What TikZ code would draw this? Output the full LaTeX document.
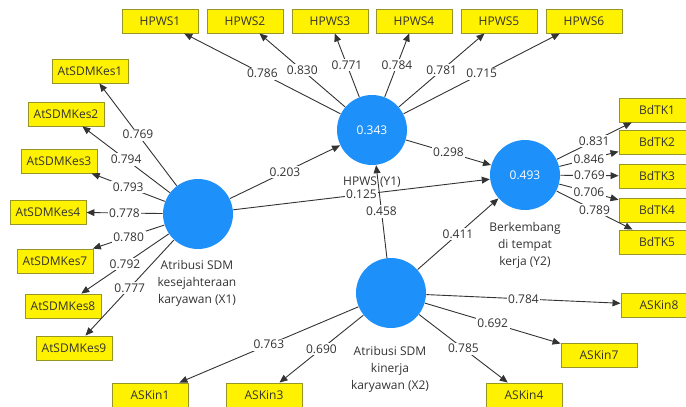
\documentclass[tikz,border=0pt]{standalone}
\usepackage{fontspec}
\setmainfont{Open Sans}
\usetikzlibrary{arrows.meta}
\definecolor{lvblue}{RGB}{30,144,250}
\definecolor{indborder}{RGB}{150,150,40}

\begin{document}
\begin{tikzpicture}[x=0.5pt, y=-0.5pt, color=black!80, line width=0.45pt,
	font=\fontsize{6}{8.5}\selectfont,
	arrows={-Triangle[length=4pt,width=3.4pt]},
	lv/.style={circle, fill=lvblue, text=white, minimum size=35pt, inner sep=0pt},
	ind/.style={rectangle, fill=yellow, draw=indborder, minimum width=38pt, minimum height=12pt, inner sep=0pt},
	lvname/.style={align=center},
	w/.style={fill=white, inner sep=0.8pt}]
	\useasboundingbox (0,0) rectangle (686,407);
	% latent variables
	\node[lv] (X1) at (198,214) {};
	\node[lv] (X2) at (391,293) {};
	\node[lv] (Y1) at (372,130) {0.343};
	\node[lv] (Y2) at (525,175) {0.493};
	\node[lvname] (X1n) at (197,283) {Atribusi SDM\\kesejahteraan\\karyawan (X1)};
	\node[lvname] (X2n) at (390,369) {Atribusi SDM\\kinerja\\karyawan (X2)};
	\node[lvname] (Y1n) at (372,182) {HPWS (Y1)};
	\node[lvname] (Y2n) at (525,245) {Berkembang\\di tempat\\kerja (Y2)};
	% indicators
	\node[ind] (h1) at (160,21) {HPWS1};
	\node[ind] (h2) at (245,21) {HPWS2};
	\node[ind] (h3) at (330,21) {HPWS3};
	\node[ind] (h4) at (414,21) {HPWS4};
	\node[ind] (h5) at (499,21) {HPWS5};
	\node[ind] (h6) at (584,21) {HPWS6};
	\node[ind] (k1) at (90,71) {AtSDMKes1};
	\node[ind] (k2) at (66,114) {AtSDMKes2};
	\node[ind] (k3) at (59,161) {AtSDMKes3};
	\node[ind] (k4) at (48,212) {AtSDMKes4};
	\node[ind] (k7) at (55,261) {AtSDMKes7};
	\node[ind] (k8) at (63,306) {AtSDMKes8};
	\node[ind] (k9) at (74,348) {AtSDMKes9};
	\node[ind] (b1) at (657,110) {BdTK1};
	\node[ind] (b2) at (657,142) {BdTK2};
	\node[ind] (b3) at (657,176) {BdTK3};
	\node[ind] (b4) at (657,210) {BdTK4};
	\node[ind] (b5) at (657,242) {BdTK5};
	\node[ind] (a1) at (150,395) {ASKin1};
	\node[ind] (a3) at (264,395) {ASKin3};
	\node[ind] (a4) at (524,395) {ASKin4};
	\node[ind] (a7) at (599,355) {ASKin7};
	\node[ind] (a8) at (659,305) {ASKin8};
	% outer loadings
	\draw (Y1) -- node[w] {0.786} (h1);
	\draw (Y1) -- node[w] {0.830} (h2);
	\draw (Y1) -- node[w] {0.771} (h3);
	\draw (Y1) -- node[w] {0.784} (h4);
	\draw (Y1) -- node[w] {0.781} (h5);
	\draw (Y1) -- node[w] {0.715} (h6);
	\draw (X1) -- node[w] {0.769} (k1);
	\draw (X1) -- node[w] {0.794} (k2);
	\draw (X1) -- node[w] {0.793} (k3);
	\draw (X1) -- node[w] {0.778} (k4);
	\draw (X1) -- node[w] {0.780} (k7);
	\draw (X1) -- node[w] {0.792} (k8);
	\draw (X1) -- node[w] {0.777} (k9);
	\draw (Y2) -- node[w] {0.831} (b1);
	\draw (Y2) -- node[w] {0.846} (b2);
	\draw (Y2) -- node[w] {0.769} (b3);
	\draw (Y2) -- node[w] {0.706} (b4);
	\draw (Y2) -- node[w] {0.789} (b5);
	\draw (X2) -- node[w] {0.763} (a1);
	\draw (X2) -- node[w] {0.690} (a3);
	\draw (X2) -- node[w] {0.785} (a4);
	\draw (X2) -- node[w] {0.692} (a7);
	\draw (X2) -- node[w] {0.784} (a8);
	% path coefficients
	\draw (X1) -- node[w] {0.203} (Y1);
	\draw (X1) -- node[w] {0.125} (Y2);
	\draw (Y1) -- node[w] {0.298} (Y2);
	\draw (X2) -- node[w] {0.458} (Y1);
	\draw (X2) -- node[w] {0.411} (Y2);
\end{tikzpicture}
\end{document}
